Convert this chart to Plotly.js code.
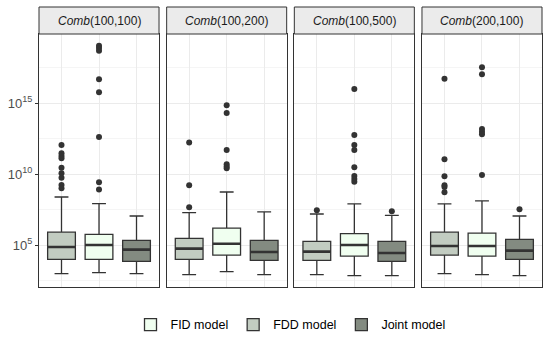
<!DOCTYPE html>
<html>
<head>
<meta charset="utf-8">
<script src="https://cdn.plot.ly/plotly-3.0.1.min.js"></script>
<style>
  body { margin: 0; background: white; }
  #chart { width: 550px; height: 351px; }
</style>
</head>
<body>
<div id="chart"></div>
<script>
// values are log10 of the plotted quantity
const panels = ["(100,100)", "(100,200)", "(100,500)", "(200,100)"];
const boxOrder = ["FDD model", "FID model", "Joint model"];
const tickVals = [5, 10, 15];
const tickText = ["10<sup>5</sup>", "10<sup>10</sup>", "10<sup>15</sup>"];

const fidQ1 = [4.01, 4.30, 4.23, 4.23];
const fidMed = [5.02, 5.11, 5.02, 4.95];
const fidQ3 = [5.77, 6.20, 5.82, 5.85];
const fidLo = [3.07, 3.14, 2.86, 2.93];
const fidHi = [7.93, 8.75, 7.91, 8.12];
const fidOut = [
  [19.06, 18.89, 18.70, 16.69, 15.77, 12.63, 9.44, 8.92],
  [14.86, 14.32, 11.71, 10.70, 10.54, 10.42],
  [16.01, 12.77, 12.06, 11.71, 10.49, 9.88, 9.67, 9.48],
  [17.54, 17.04, 13.19, 13.00, 12.82, 9.95]
];

const fddQ1 = [4.01, 4.01, 3.94, 4.30];
const fddMed = [4.88, 4.76, 4.55, 4.95];
const fddQ3 = [5.92, 5.49, 5.28, 5.92];
const fddLo = [3.00, 2.93, 2.93, 3.00];
const fddHi = [8.40, 7.30, 7.20, 7.91];
const fddOut = [
  [12.06, 11.48, 11.29, 11.13, 10.46, 10.07, 9.76, 9.25, 9.01],
  [12.24, 9.23, 7.68],
  [7.46],
  [16.73, 11.06, 9.86, 9.23, 9.11, 8.73]
];

const jointQ1 = [3.87, 3.94, 3.87, 4.01];
const jointMed = [4.69, 4.53, 4.46, 4.62];
const jointQ3 = [5.35, 5.35, 5.28, 5.42];
const jointLo = [3.00, 2.93, 2.86, 2.86];
const jointHi = [7.06, 7.35, 7.11, 7.06];
const jointOut = [[], [], [7.39], [7.54]];

const models = [
  {name: "FID model", fill: "#F0FFF0", q1: fidQ1, med: fidMed, q3: fidQ3, lo: fidLo, hi: fidHi, out: fidOut},
  {name: "FDD model", fill: "#C2CCC1", q1: fddQ1, med: fddMed, q3: fddQ3, lo: fddLo, hi: fddHi, out: fddOut},
  {name: "Joint model", fill: "#838B81", q1: jointQ1, med: jointMed, q3: jointQ3, lo: jointLo, hi: jointHi, out: jointOut}
];

const font = "Liberation Sans, Arial, sans-serif";
const dark = "#333333";
let traces = [];

for (let p = 0; p < panels.length; p++) {
  let sfx = p === 0 ? "" : String(p + 1);
  models.forEach(function (m) {
    traces.push({
      type: "box",
      name: m.name,
      legendgroup: m.name,
      showlegend: p === 0,
      x: [m.name],
      q1: [m.q1[p]], median: [m.med[p]], q3: [m.q3[p]],
      lowerfence: [m.lo[p]], upperfence: [m.hi[p]],
      boxpoints: false,
      width: 0.74,
      fillcolor: m.fill,
      line: {color: dark, width: 1.3},
      xaxis: "x" + sfx, yaxis: "y" + sfx,
      hoverinfo: "skip"
    });
    // thicker median line, like ggplot
    traces.push({
      type: "box",
      showlegend: false,
      x: [m.name],
      q1: [m.med[p]], median: [m.med[p]], q3: [m.med[p]],
      lowerfence: [m.med[p]], upperfence: [m.med[p]],
      boxpoints: false,
      width: 0.74,
      fillcolor: "rgba(0,0,0,0)",
      line: {color: dark, width: 2.6},
      xaxis: "x" + sfx, yaxis: "y" + sfx,
      hoverinfo: "skip"
    });
    traces.push({
      type: "scatter",
      mode: "markers",
      showlegend: false,
      x: m.out[p].map(() => m.name),
      y: m.out[p],
      marker: {color: dark, size: 6},
      xaxis: "x" + sfx, yaxis: "y" + sfx,
      hoverinfo: "skip"
    });
  });
}

const plotH = 253;
const domains = [[0, 0.2386], [0.2538, 0.4924], [0.5076, 0.7462], [0.7614, 1]];
let layout = {
  width: 550, height: 351,
  margin: {l: 39, r: 8, t: 34, b: 64},
  paper_bgcolor: "white",
  plot_bgcolor: "white",
  font: {family: font, size: 12, color: "#1A1A1A"},
  showlegend: true,
  legend: {
    orientation: "h", x: 0.5, xanchor: "center", y: -0.15, yanchor: "middle",
    font: {family: font, size: 12.5, color: "#000000"},
    traceorder: "normal"
  },
  shapes: [],
  annotations: []
};

for (let p = 0; p < panels.length; p++) {
  let sfx = p === 0 ? "" : String(p + 1);
  layout["xaxis" + sfx] = {
    domain: domains[p],
    anchor: "y" + sfx,
    type: "category",
    categoryorder: "array",
    categoryarray: boxOrder,
    range: [-0.6, 2.6],
    showticklabels: false,
    ticks: "",
    showgrid: true, gridcolor: "#EBEBEB", gridwidth: 1,
    zeroline: false,
    showline: true, mirror: true, linecolor: dark, linewidth: 1,
    fixedrange: true
  };
  layout["yaxis" + sfx] = {
    anchor: "x" + sfx,
    range: [2.06, 19.88],
    tickmode: "array",
    tickvals: tickVals,
    ticktext: tickText,
    showticklabels: p === 0,
    ticks: p === 0 ? "outside" : "",
    ticklen: 3, tickcolor: dark,
    tickfont: {family: font, size: 13, color: "#4D4D4D"},
    showgrid: true, gridcolor: "#EBEBEB", gridwidth: 1,
    minor: {tickmode: "linear", tick0: 2.5, dtick: 5, showgrid: true, gridcolor: "#EFEFEF", gridwidth: 0.6, ticks: ""},
    zeroline: false,
    showline: true, mirror: true, linecolor: dark, linewidth: 1,
    fixedrange: true
  };
  layout.shapes.push({
    type: "rect",
    xref: "x" + sfx + " domain", yref: "paper",
    x0: 0, x1: 1, y0: 1, y1: 1 + 27 / plotH,
    fillcolor: "#EBEBEB",
    line: {color: dark, width: 1}
  });
  layout.annotations.push({
    xref: "x" + sfx + " domain", yref: "paper",
    x: 0.5, y: 1 + 13.5 / plotH,
    xanchor: "center", yanchor: "middle",
    text: "<i>Comb</i>" + panels[p],
    showarrow: false,
    font: {family: font, size: 12, color: "#1A1A1A"}
  });
}

Plotly.newPlot("chart", traces, layout, {displayModeBar: false, staticPlot: true});
</script>
</body>
</html>
